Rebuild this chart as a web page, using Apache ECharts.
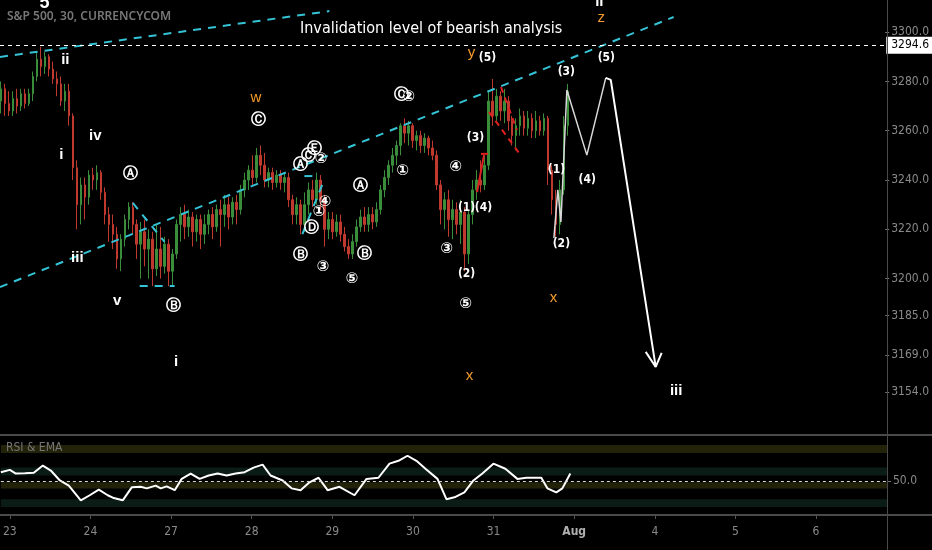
<!DOCTYPE html>
<html>
<head>
<meta charset="utf-8">
<script src="https://cdn.jsdelivr.net/npm/echarts@6/dist/echarts.min.js"></script>
<style>
  html, body { margin: 0; padding: 0; background: #000; }
  #chart { width: 932px; height: 550px; }
</style>
</head>
<body>
<div id="chart"></div>
<script>
// day labels on the time axis (trading days, Aug = 3)
const dayLabels = ['23', '24', '27', '28', '29', '30', '31', 'Aug', '4', '5', '6'];
const priceTicks = [3154, 3169, 3185, 3200, 3220, 3240, 3260, 3280, 3300];
const invalidation = 3294.6;

// 30-min-ish bars, x in trading days from Jul 23
const barStart = -0.1;
const barStep = 0.0496;
// [open, close, low, high]
const candles = [
  [3272,3277,3267,3280],[3277,3271,3266,3279],[3271,3268,3266,3276],[3268,3273,3266,3276],
  [3273,3270,3267,3277],[3270,3275,3268,3277],[3275,3271,3269,3277],[3271,3275,3270,3277],
  [3275,3282,3272,3284],[3282,3289,3280,3292],[3289,3286,3282,3294],[3286,3290,3283,3292],
  [3290,3285,3282,3291],[3285,3281,3279,3288],[3281,3279,3274,3284],[3279,3272,3270,3282],
  [3272,3276,3268,3279],[3276,3266,3262,3279],[3266,3245,3240,3267],[3245,3230,3220,3248],
  [3230,3238,3222,3241],[3238,3233,3224,3241],[3233,3242,3230,3244],[3242,3240,3236,3245],
  [3240,3243,3236,3246],[3243,3235,3232,3244],[3235,3226,3222,3237],[3226,3222,3215,3229],
  [3222,3218,3212,3226],[3218,3208,3204,3221],[3208,3216,3203,3218],[3216,3224,3213,3226],
  [3224,3229,3220,3231],[3229,3222,3218,3231],[3222,3214,3208,3224],[3214,3219,3200,3223],
  [3219,3212,3205,3224],[3212,3216,3200,3220],[3216,3204,3197,3219],[3204,3212,3201,3222],
  [3212,3205,3200,3221],[3205,3214,3202,3217],[3214,3203,3197,3216],[3203,3210,3197,3212],
  [3210,3222,3208,3224],[3222,3226,3215,3229],[3226,3221,3216,3230],[3221,3225,3217,3228],
  [3225,3219,3213,3227],[3219,3224,3215,3226],[3224,3218,3212,3226],[3218,3222,3214,3226],
  [3222,3226,3218,3228],[3226,3221,3216,3229],[3221,3228,3219,3230],[3228,3226,3213,3232],
  [3226,3230,3221,3234],[3230,3225,3220,3233],[3225,3231,3222,3233],[3231,3228,3222,3234],
  [3228,3236,3226,3238],[3236,3240,3233,3243],[3240,3244,3236,3246],[3244,3241,3238,3250],
  [3241,3250,3239,3253],[3250,3246,3242,3254],[3246,3240,3237,3251],[3240,3243,3237,3245],
  [3243,3239,3236,3245],[3239,3242,3237,3244],[3242,3239,3236,3244],[3239,3241,3235,3243],
  [3241,3232,3229,3243],[3232,3226,3222,3234],[3226,3230,3222,3233],[3230,3222,3218,3232],
  [3222,3230,3219,3235],[3230,3236,3226,3239],[3236,3232,3229,3240],[3232,3240,3230,3243],
  [3240,3232,3228,3242],[3232,3220,3213,3234],[3220,3224,3216,3227],[3224,3219,3216,3227],
  [3219,3223,3217,3226],[3223,3218,3215,3226],[3218,3213,3211,3221],[3213,3210,3208,3216],
  [3210,3215,3208,3218],[3215,3221,3213,3224],[3221,3225,3219,3228],[3225,3222,3219,3229],
  [3222,3226,3219,3229],[3226,3223,3220,3229],[3223,3228,3221,3231],[3228,3236,3226,3238],
  [3236,3241,3233,3244],[3241,3246,3238,3248],[3246,3250,3243,3253],[3250,3254,3246,3256],
  [3254,3262,3250,3263],[3262,3259,3255,3265],[3259,3262,3254,3264],[3262,3256,3253,3263],
  [3256,3258,3252,3260],[3258,3254,3251,3260],[3254,3257,3251,3259],[3257,3253,3250,3258],
  [3253,3250,3248,3256],[3250,3238,3236,3252],[3238,3228,3222,3240],[3228,3232,3220,3235],
  [3232,3224,3217,3236],[3224,3228,3216,3232],[3228,3222,3218,3231],[3222,3227,3214,3232],
  [3227,3210,3203,3229],[3210,3226,3206,3228],[3226,3236,3222,3240],[3236,3240,3232,3244],
  [3240,3238,3235,3248],[3238,3246,3236,3250],[3246,3272,3244,3276],[3272,3266,3262,3281],
  [3266,3274,3264,3277],[3274,3268,3264,3276],[3268,3272,3263,3277],[3272,3264,3260,3274],
  [3264,3258,3254,3266],[3258,3262,3252,3265],[3262,3266,3258,3269],[3266,3261,3258,3268],
  [3261,3265,3258,3268],[3265,3260,3257,3267],[3260,3264,3257,3268],[3264,3260,3258,3266],
  [3260,3265,3258,3267],[3265,3244,3238,3266],[3244,3232,3226,3246],[3232,3222,3217,3236],
  [3222,3236,3218,3240],[3236,3262,3234,3266],[3262,3276,3258,3279]
];

// RSI readings [day, value]
const rsi = [
  [-0.112,57.9],[0,60],[0.074,56.7],[0.186,57],[0.297,57.5],[0.409,63.8],[0.508,59.4],
  [0.62,50.6],[0.731,46],[0.88,33],[0.991,37.5],[1.103,42.5],[1.214,37.5],[1.289,35],
  [1.4,33],[1.512,44.5],[1.623,45],[1.698,43.6],[1.809,46],[1.871,43.6],[1.945,45.4],
  [2.045,42],[2.131,52],[2.243,56.7],[2.354,52],[2.466,55],[2.577,56.7],[2.689,55],
  [2.8,56.7],[2.912,57.9],[3.023,62],[3.135,64.6],[3.234,55],[3.383,50.6],[3.494,43.6],
  [3.606,42],[3.717,49],[3.829,53],[3.941,42],[4.089,45],[4.275,37.5],[4.424,52],
  [4.572,53],[4.709,65.5],[4.82,68],[4.932,72.5],[5.043,68],[5.155,61],[5.304,52],
  [5.415,34],[5.527,36],[5.638,40],[5.75,50.6],[5.861,56.7],[5.998,65.5],[6.146,61],
  [6.295,52],[6.406,53],[6.518,53],[6.592,53],[6.667,43.6],[6.778,40],[6.853,43.6],[6.952,56.7]
];

// wave labels [day, price, text]
const romanLabels = [
  [0.706,3288.7,'ii'],[1.078,3257.9,'iv'],[0.657,3250.1,'i'],[0.855,3208.4,'iii'],
  [1.351,3190.9,'v'],[2.082,3166.2,'i'],[7.336,3312.2,'ii'],[8.29,3154.4,'iii']
];
const circledLabels = [
  [1.512,3242.0,'Ⓐ'],[2.045,3188.5,'Ⓑ'],[3.11,3263.9,'Ⓒ'],[3.631,3245.7,'Ⓐ'],
  [3.73,3249.3,'Ⓒ'],[3.804,3252.2,'Ⓔ'],[3.879,3248.1,'②'],[3.928,3230.7,'④'],
  [3.854,3226.6,'①'],[3.767,3220.1,'Ⓓ'],[3.631,3209.2,'Ⓑ'],[3.903,3204.3,'③'],
  [4.374,3237.2,'Ⓐ'],[4.424,3209.6,'Ⓑ'],[4.263,3199.5,'⑤'],[4.882,3274.1,'Ⓒ'],
  [4.969,3273.3,'②'],[4.895,3243.3,'①'],[5.551,3244.9,'④'],[5.44,3211.6,'③'],
  [5.675,3189.3,'⑤']
];
const parenLabels = [
  [5.688,3228.7,'(1)'],[5.688,3201.9,'(2)'],[5.799,3257.0,'(3)'],[5.898,3228.7,'(4)'],
  [5.948,3289.5,'(5)'],[6.803,3244.1,'(1)'],[6.865,3213.7,'(2)'],[6.927,3283.8,'(3)'],
  [7.187,3240.0,'(4)'],[7.423,3289.5,'(5)']
];
const orangeLabels = [
  [3.073,3273.3,'w'],[5.75,3291.5,'y'],[7.361,3305.7,'z'],[6.766,3192.2,'x'],[5.725,3160.5,'x']
];

// drawn lines [[day, price], ...]
const cyanLines = [
  [[-0.1115,3289.9],[3.978,3308.5]],
  [[-0.1115,3196.6],[8.253,3306.1]],
  [[1.537,3230.7],[1.933,3214.9]],
  [[1.623,3197.0],[2.057,3197.0]],
  [[3.668,3241.6],[3.767,3241.6]],
  [[3.643,3218.1],[3.903,3239.2]]
];
const redSolid = [
  [[5.812,3235.1],[5.898,3250.1]],
  [[5.861,3250.6],[5.948,3250.6]]
];
const redDashed = [
  [[5.96,3267.6],[6.332,3251.0]],
  [[6.109,3277.7],[6.307,3260.3]]
];
const projection = [[6.766,3216.5],[6.815,3236.0],[6.853,3223.0],[6.927,3276.5],[7.175,3250.1],[7.41,3281.4]];
const arrowPath = [[7.41,3281.4],[7.472,3280.6],[8.03,3164.2]];
const arrowHead = [[7.906,3170.3],[8.03,3164.2],[8.104,3169.9]];

const narrow = "'Liberation Sans Narrow', 'DejaVu Sans Condensed', sans-serif";

const chart = echarts.init(document.getElementById('chart'));

const labelSeries = (list, style) => ({
  type: 'scatter',
  xAxisIndex: 0,
  yAxisIndex: 0,
  symbolSize: 1,
  itemStyle: { color: 'rgba(0,0,0,0)' },
  silent: true,
  z: 5,
  data: list,
  label: Object.assign({
    show: true,
    position: [0, 0],
    align: 'center',
    verticalAlign: 'middle',
    textBorderWidth: 0,
    opacity: 1,
    formatter: (p) => p.data[2]
  }, style)
});

const lineSeries = (pts, color, width, type) => ({
  type: 'line',
  xAxisIndex: 0,
  yAxisIndex: 0,
  data: pts,
  symbol: 'none',
  silent: true,
  z: 4,
  lineStyle: { color: color, width: width, type: type }
});

let series = [
  {
    type: 'candlestick',
    xAxisIndex: 0,
    yAxisIndex: 0,
    barWidth: 2,
    encode: { x: 0, y: [1, 2, 3, 4] },
    data: candles.map((c, i) => [barStart + i * barStep, c[0], c[1], c[2], c[3]]),
    itemStyle: {
      color: '#3a8d3a', color0: '#c0392f',
      borderColor: '#3a8d3a', borderColor0: '#c0392f', borderWidth: 1
    },
    markLine: {
      symbol: 'none',
      silent: true,
      data: [{ yAxis: invalidation }],
      lineStyle: { color: '#ffffff', type: [4, 4], width: 1 },
      label: {
        position: 'end', distance: 1, formatter: '3294.6',
        backgroundColor: '#ffffff', color: '#000', padding: [3, 6, 2, 5],
        fontSize: 12, fontFamily: narrow
      }
    }
  }
];

cyanLines.forEach(l => series.push(lineSeries(l, '#35c3d6', 2, [8, 7])));
redSolid.forEach(l => series.push(lineSeries(l, '#e02020', 2, 'solid')));
redDashed.forEach(l => series.push(lineSeries(l, '#e02020', 2, [6, 5])));
series.push(lineSeries(projection, '#d8d8d8', 1.5, 'solid'));
series.push(lineSeries(arrowPath, '#ffffff', 2, 'solid'));
series.push(lineSeries(arrowHead, '#ffffff', 2, 'solid'));

series.push(labelSeries(romanLabels, { color: '#ffffff', fontSize: 15, fontWeight: 'bold', fontFamily: 'Liberation Sans' }));
series.push(labelSeries(circledLabels, { color: '#ffffff', fontSize: 15, fontWeight: 'bold', fontFamily: 'DejaVu Sans' }));
series.push(labelSeries(parenLabels, { color: '#ffffff', fontSize: 12, fontWeight: 'bold', fontFamily: narrow }));
series.push(labelSeries(orangeLabels, { color: '#f39a2c', fontSize: 15, fontFamily: 'Liberation Sans' }));
series.push(labelSeries([[0.446, 3311.4, '5']], { color: '#ffffff', fontSize: 18, fontWeight: 'bold', fontFamily: 'Liberation Sans' }));

series.push({
  type: 'line',
  xAxisIndex: 1,
  yAxisIndex: 1,
  data: rsi,
  symbol: 'none',
  silent: true,
  lineStyle: { color: '#ffffff', width: 2 },
  markLine: {
    symbol: 'none',
    silent: true,
    data: [{ yAxis: 50 }],
    lineStyle: { color: '#d8d8d8', type: [3, 3], width: 1 },
    label: { show: false }
  },
  markArea: {
    silent: true,
    data: [
      [{ yAxis: 75, itemStyle: { color: '#23230a' } }, { yAxis: 82 }],
      [{ yAxis: 55, itemStyle: { color: '#0b1c17' } }, { yAxis: 62 }],
      [{ yAxis: 43.5, itemStyle: { color: '#22220a' } }, { yAxis: 49 }],
      [{ yAxis: 27, itemStyle: { color: '#0b1c17' } }, { yAxis: 34 }]
    ]
  }
});

const option = {
  backgroundColor: '#000',
  animation: false,
  grid: [
    { left: 0, right: 45, top: 0, height: 435 },
    { left: 0, right: 45, top: 436, height: 79 }
  ],
  xAxis: [
    { type: 'value', gridIndex: 0, min: -0.1115, max: 10.88, show: false },
    {
      type: 'value', gridIndex: 1, min: -0.1115, max: 10.88,
      splitLine: { show: false },
      axisLine: { show: false, onZero: false },
      axisTick: { show: true, length: 4, lineStyle: { color: '#555' }, customValues: dayLabels.map((d, i) => i) },
      axisLabel: {
        color: '#8a8a8a', fontSize: 12, margin: 11, fontFamily: narrow,
        customValues: dayLabels.map((d, i) => i),
        formatter: (v) => {
          const s = dayLabels[Math.round(v)];
          return s === 'Aug' ? '{b|' + s + '}' : s;
        },
        rich: { b: { color: '#b0b0b0', fontWeight: 'bold', fontSize: 12, fontFamily: narrow } }
      }
    }
  ],
  yAxis: [
    {
      type: 'value', gridIndex: 0, position: 'right', min: 3136.6, max: 3313,
      splitLine: { show: false },
      axisLine: { show: false, onZero: false },
      axisTick: { show: true, length: 4, lineStyle: { color: '#777' }, customValues: priceTicks },
      axisLabel: {
        color: '#8a8a8a', fontSize: 12, margin: 6, fontFamily: narrow,
        customValues: priceTicks,
        formatter: (v) => v.toFixed(1)
      }
    },
    {
      type: 'value', gridIndex: 1, position: 'right', min: 20, max: 90,
      splitLine: { show: false },
      axisLine: { show: false, onZero: false },
      axisTick: { show: true, length: 4, lineStyle: { color: '#777' }, customValues: [50] },
      axisLabel: {
        color: '#8a8a8a', fontSize: 12, margin: 6, fontFamily: narrow,
        customValues: [50],
        formatter: (v) => v.toFixed(1)
      }
    }
  ],
  graphic: [
    { type: 'line', z: 100, shape: { x1: 0, y1: 435, x2: 932, y2: 435 }, style: { stroke: '#4a4a4a', lineWidth: 2 }, silent: true },
    { type: 'line', z: 100, shape: { x1: 0, y1: 515, x2: 932, y2: 515 }, style: { stroke: '#4a4a4a', lineWidth: 2 }, silent: true },
    { type: 'line', z: 100, shape: { x1: 887.5, y1: 0, x2: 887.5, y2: 550 }, style: { stroke: '#4a4a4a', lineWidth: 1 }, silent: true },
    {
      type: 'text', left: 7, top: 11, silent: true, z: 100,
      style: { text: 'S&P 500, 30, CURRENCYCOM', fill: '#777', fontSize: 12, fontWeight: 600, fontFamily: 'Noto Sans' }
    },
    {
      type: 'text', left: 6, top: 442, silent: true, z: 100,
      style: { text: 'RSI & EMA', fill: '#777', fontSize: 12, fontFamily: narrow }
    },
    {
      type: 'text', left: 300, top: 21, silent: true, z: 100,
      style: { text: 'Invalidation level of bearish analysis', fill: '#fff', fontSize: 16, fontFamily: narrow }
    }
  ],
  series: series
};

chart.setOption(option);
</script>
</body>
</html>
